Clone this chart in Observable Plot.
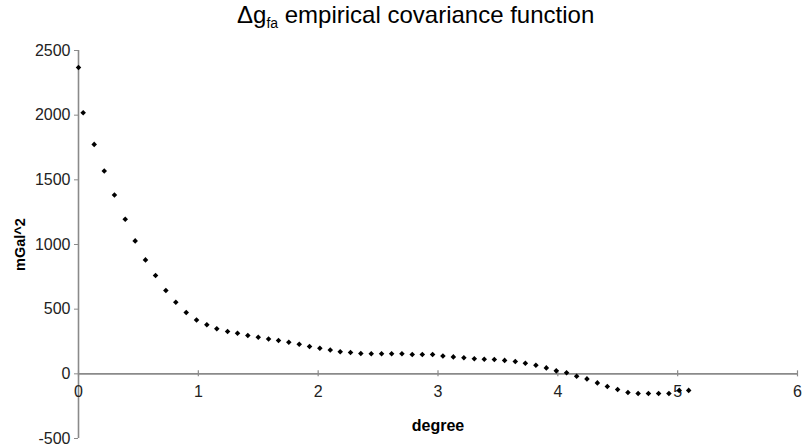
<!DOCTYPE html>
<html>
<head>
<meta charset="utf-8">
<script src="https://cdn.jsdelivr.net/npm/d3@7"></script>
<script src="https://cdn.jsdelivr.net/npm/@observablehq/plot@0.6"></script>
<style>
  html, body { margin: 0; padding: 0; background: #fff; }
  #wrap { position: relative; width: 808px; height: 448px; overflow: hidden; }
  #title { position: absolute; left: 237px; top: 0; height: 30px; line-height: 30px;
           font-family: "Liberation Sans", Arial, sans-serif; font-size: 24px; color: #000; white-space: nowrap; }
  #title sub { font-size: 14px; vertical-align: -5px; line-height: 0; }
  #chart { position: absolute; left: 0; top: 30px; }
</style>
</head>
<body>
<div id="wrap">
  <div id="title">Δg<sub>fa</sub> empirical covariance function</div>
  <div id="chart"></div>
</div>
<script>
// Angular distance (degree) of each covariance sample
const degree = [
  0.000, 0.039, 0.131, 0.215, 0.300, 0.390, 0.473, 0.559, 0.643, 0.729,
  0.812, 0.899, 0.985, 1.071, 1.154, 1.244, 1.327, 1.413, 1.500, 1.586,
  1.669, 1.755, 1.842, 1.928, 2.014, 2.101, 2.184, 2.270, 2.356, 2.443,
  2.529, 2.613, 2.699, 2.785, 2.869, 2.955, 3.041, 3.128, 3.216, 3.303,
  3.386, 3.470, 3.556, 3.645, 3.729, 3.817, 3.904, 3.987, 4.073, 4.157,
  4.243, 4.330, 4.413, 4.499, 4.585, 4.670, 4.756, 4.841, 4.927, 5.013,
  5.092
];
// Empirical covariance (mGal^2)
const covariance = [
  2369, 2019, 1774, 1569, 1383, 1195, 1028, 881, 760, 644,
  553, 474, 417, 379, 348, 327, 314, 296, 283, 270,
  257, 244, 229, 211, 198, 185, 170, 165, 157, 155,
  155, 155, 155, 150, 150, 149, 138, 131, 124, 117,
  113, 111, 104, 96, 82, 66, 46, 23, 8, -19,
  -39, -70, -98, -121, -145, -152, -152, -152, -152, -128,
  -128
];
const xTicks = [0, 1, 2, 3, 4, 5, 6];
const yTicks = [-500, 0, 500, 1000, 1500, 2000, 2500];
const xLabel = "degree";
const yLabel = "mGal^2";

const data = degree.map((d, i) => ({degree: d, cov: covariance[i]}));
const axisGray = "#8a8a8a";
const textColor = "#222";

const chart = Plot.plot({
  width: 808,
  height: 418,
  marginTop: 20,
  marginBottom: 10,
  marginLeft: 78,
  marginRight: 11,
  style: {fontFamily: "'Liberation Sans', Arial, sans-serif", fontSize: "16px", background: "#fff"},
  x: {domain: [0, 6], axis: null},
  y: {domain: [-500, 2500], axis: null},
  marks: [
    Plot.ruleX([0], {stroke: axisGray, strokeWidth: 1.6}),
    Plot.ruleY([0], {stroke: axisGray, strokeWidth: 1.6}),
    Plot.axisY(yTicks, {tickSize: 4, tickPadding: 4, label: null, tickFormat: d => String(d), stroke: axisGray, fill: textColor}),
    Plot.ruleX(xTicks, {x: d => d, y1: 0, y2: 0, insetTop: -3, insetBottom: -3, stroke: axisGray, strokeWidth: 1.2}),
    Plot.text(xTicks, {x: d => d, y: () => 0, text: d => String(d), dy: 18, fill: textColor}),
    Plot.text([yLabel], {frameAnchor: "left", textAnchor: "middle", rotate: -90, dx: -58, fontWeight: "bold", fontSize: 14.5, fill: "#000"}),
    Plot.text([xLabel], {frameAnchor: "bottom", lineAnchor: "bottom", dy: -8, fontWeight: "bold", fontSize: 16, fill: "#000"}),
    Plot.dot(data, {x: "degree", y: "cov", symbol: "diamond2", r: 2.5, fill: "#000", stroke: "none"})
  ]
});
document.getElementById("chart").appendChild(chart);
</script>
</body>
</html>
